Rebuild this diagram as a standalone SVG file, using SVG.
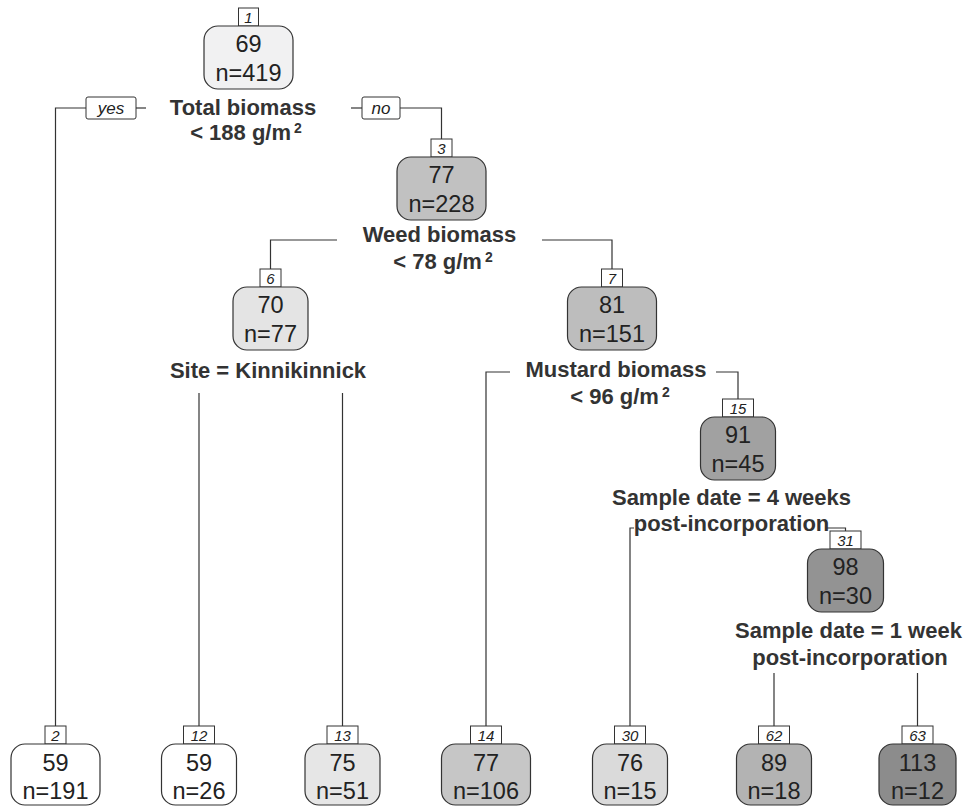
<svg xmlns="http://www.w3.org/2000/svg" width="968" height="806" viewBox="0 0 968 806">
<style>
.bg{fill:#fff}
.box{stroke:#333;stroke-width:1.2}
.tag{fill:#fff;stroke:#333;stroke-width:1}
.idx{font-family:"Liberation Sans",Arial,sans-serif;font-style:italic;font-size:15px;fill:#222;text-anchor:middle}
.yn{font-family:"Liberation Sans",Arial,sans-serif;font-style:italic;font-size:17px;fill:#222;text-anchor:middle}
.val{font-family:"Liberation Sans",Arial,sans-serif;font-size:23.5px;fill:#222;text-anchor:middle}
.split{font-family:"Liberation Sans",Arial,sans-serif;font-weight:bold;font-size:22px;fill:#333;text-anchor:middle}
.sup{font-size:14px}
.conn{fill:none;stroke:#333;stroke-width:1.2}
</style>
<rect class="bg" x="0" y="0" width="968" height="806"/>
<g id="connectors" class="conn">
<path d="M55.5,726 V108 H86"/>
<path d="M136,108 H146"/>
<path d="M351,108 H362"/>
<path d="M400,108 H441.5 V139"/>
<path d="M270.5,269 V240 H337"/>
<path d="M542,240 H612 V269"/>
<path d="M199,726 V393"/>
<path d="M342.5,726 V393"/>
<path d="M486,726 V372 H510"/>
<path d="M716,372 H738 V399"/>
<path d="M630,726 V528 H634"/>
<path d="M826,528 H845.5 V531"/>
<path d="M774,726 V673"/>
<path d="M917.5,726 V673"/>
</g>
<g id="edge-yes">
<rect class="tag" x="86" y="97" width="50" height="22" rx="2"/>
<text class="yn" x="111" y="114">yes</text>
</g>
<g id="edge-no">
<rect class="tag" x="362" y="97" width="38" height="22" rx="2"/>
<text class="yn" x="381" y="114">no</text>
</g>
<g id="node1">
<rect class="tag" x="238.5" y="8" width="20" height="18"/>
<text class="idx" x="248.5" y="22.5">1</text>
<rect class="box" x="204" y="26" width="89" height="63" rx="14" fill="#f1f1f2"/>
<text class="val" x="248.5" y="52">69</text>
<text class="val" x="248.5" y="81">n=419</text>
<text class="split" x="243" y="115">Total biomass</text>
<text class="split" x="246" y="140">&lt; 188 g/m<tspan class="sup" dx="3" dy="-7">2</tspan></text>
</g>
<g id="node3">
<rect class="tag" x="431" y="139" width="21" height="18"/>
<text class="idx" x="441.5" y="153.5">3</text>
<rect class="box" x="397" y="157" width="89" height="63" rx="14" fill="#c1c1c1"/>
<text class="val" x="441.5" y="183">77</text>
<text class="val" x="441.5" y="212">n=228</text>
<text class="split" x="439.5" y="242">Weed biomass</text>
<text class="split" x="443" y="269">&lt; 78 g/m<tspan class="sup" dx="3" dy="-7">2</tspan></text>
</g>
<g id="node6">
<rect class="tag" x="260" y="269" width="21" height="18"/>
<text class="idx" x="270.5" y="283.5">6</text>
<rect class="box" x="233" y="287" width="75" height="63" rx="14" fill="#e4e4e4"/>
<text class="val" x="270.5" y="313">70</text>
<text class="val" x="270.5" y="342">n=77</text>
<text class="split" x="268" y="378">Site = Kinnikinnick</text>
</g>
<g id="node7">
<rect class="tag" x="601.5" y="269" width="21" height="18"/>
<text class="idx" x="612" y="283.5">7</text>
<rect class="box" x="567.5" y="287" width="89" height="63" rx="14" fill="#bdbdbd"/>
<text class="val" x="612" y="313">81</text>
<text class="val" x="612" y="342">n=151</text>
<text class="split" x="616" y="377">Mustard biomass</text>
<text class="split" x="620" y="404">&lt; 96 g/m<tspan class="sup" dx="3" dy="-7">2</tspan></text>
</g>
<g id="node15">
<rect class="tag" x="722.5" y="399" width="31" height="18"/>
<text class="idx" x="738" y="413.5">15</text>
<rect class="box" x="700.5" y="417" width="75" height="63" rx="14" fill="#a1a1a1"/>
<text class="val" x="738" y="443">91</text>
<text class="val" x="738" y="472">n=45</text>
<text class="split" x="731.5" y="505">Sample date = 4 weeks</text>
<text class="split" x="731.5" y="531">post-incorporation</text>
</g>
<g id="node31">
<rect class="tag" x="830" y="531" width="31" height="18"/>
<text class="idx" x="845.5" y="545.5">31</text>
<rect class="box" x="807.5" y="549" width="76" height="63" rx="14" fill="#939393"/>
<text class="val" x="845.5" y="575">98</text>
<text class="val" x="845.5" y="604">n=30</text>
<text class="split" x="848.5" y="638">Sample date = 1 week</text>
<text class="split" x="850" y="665">post-incorporation</text>
</g>
<g id="node2">
<rect class="tag" x="45" y="726" width="21" height="18"/>
<text class="idx" x="55.5" y="740.5">2</text>
<rect class="box" x="11" y="744" width="89" height="61" rx="14" fill="#ffffff"/>
<text class="val" x="55.5" y="771">59</text>
<text class="val" x="55.5" y="799">n=191</text>
</g>
<g id="node12">
<rect class="tag" x="183.5" y="726" width="31" height="18"/>
<text class="idx" x="199" y="740.5">12</text>
<rect class="box" x="161.5" y="744" width="75" height="61" rx="14" fill="#ffffff"/>
<text class="val" x="199" y="771">59</text>
<text class="val" x="199" y="799">n=26</text>
</g>
<g id="node13">
<rect class="tag" x="327" y="726" width="31" height="18"/>
<text class="idx" x="342.5" y="740.5">13</text>
<rect class="box" x="305" y="744" width="75" height="61" rx="14" fill="#e6e6e6"/>
<text class="val" x="342.5" y="771">75</text>
<text class="val" x="342.5" y="799">n=51</text>
</g>
<g id="node14">
<rect class="tag" x="470.5" y="726" width="31" height="18"/>
<text class="idx" x="486" y="740.5">14</text>
<rect class="box" x="441.5" y="744" width="89" height="61" rx="14" fill="#c6c6c6"/>
<text class="val" x="486" y="771">77</text>
<text class="val" x="486" y="799">n=106</text>
</g>
<g id="node30">
<rect class="tag" x="614.5" y="726" width="31" height="18"/>
<text class="idx" x="630" y="740.5">30</text>
<rect class="box" x="592.5" y="744" width="75" height="61" rx="14" fill="#dadada"/>
<text class="val" x="630" y="771">76</text>
<text class="val" x="630" y="799">n=15</text>
</g>
<g id="node62">
<rect class="tag" x="758.5" y="726" width="31" height="18"/>
<text class="idx" x="774" y="740.5">62</text>
<rect class="box" x="736.5" y="744" width="75" height="61" rx="14" fill="#b3b3b3"/>
<text class="val" x="774" y="771">89</text>
<text class="val" x="774" y="799">n=18</text>
</g>
<g id="node63">
<rect class="tag" x="902" y="726" width="31" height="18"/>
<text class="idx" x="917.5" y="740.5">63</text>
<rect class="box" x="879" y="744" width="77" height="61" rx="14" fill="#8c8c8c"/>
<text class="val" x="917.5" y="771">113</text>
<text class="val" x="917.5" y="799">n=12</text>
</g>
</svg>
